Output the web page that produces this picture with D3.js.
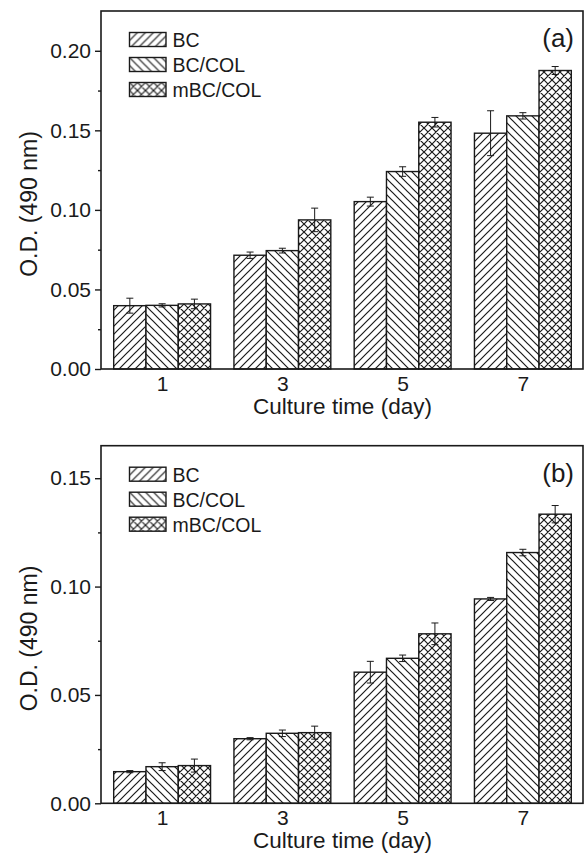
<!DOCTYPE html>
<html>
<head>
<meta charset="utf-8">
<script src="https://cdn.jsdelivr.net/npm/d3@7"></script>
<style>
  body { margin: 0; background: #fff; }
  text { font-family: Arial, "Liberation Sans", sans-serif; fill: #1a1a1a; }
</style>
</head>
<body>
<div id="container"></div>
<script>
/** CONSTANTS AND GLOBALS */
const width = 584, height = 854;

const days = [1, 3, 5, 7];
const seriesNames = ["BC", "BC/COL", "mBC/COL"];
const patternIds = ["fwd", "back", "cross"];

// panel (a)
const aBC = [0.0398, 0.0715, 0.1052, 0.1482];
const aBCErr = [0.0047, 0.002, 0.0028, 0.0141];
const aBCCOL = [0.0400, 0.0744, 0.1241, 0.1591];
const aBCCOLErr = [0.001, 0.0015, 0.003, 0.002];
const aMBCCOL = [0.0409, 0.0937, 0.1551, 0.1876];
const aMBCCOLErr = [0.003, 0.0074, 0.003, 0.0025];

// panel (b)
const bBC = [0.0146, 0.0298, 0.0605, 0.0943];
const bBCErr = [0.0005, 0.0005, 0.005, 0.0007];
const bBCCOL = [0.0169, 0.0323, 0.0669, 0.1157];
const bBCCOLErr = [0.0018, 0.0015, 0.0015, 0.0015];
const bMBCCOL = [0.0174, 0.0326, 0.0782, 0.1334];
const bMBCCOLErr = [0.003, 0.003, 0.005, 0.004];

const yMajorA = [0, 0.05, 0.10, 0.15, 0.20];
const yMinorA = [0.025, 0.075, 0.125, 0.175];
const yMajorB = [0, 0.05, 0.10, 0.15];
const yMinorB = [0.025, 0.075, 0.125];

const panels = [
  { label: "(a)", top: 11, bottom: 369, yMax: 0.225, major: yMajorA, minor: yMinorA,
    values: [aBC, aBCCOL, aMBCCOL], errors: [aBCErr, aBCCOLErr, aMBCCOLErr] },
  { label: "(b)", top: 445.7, bottom: 803.3, yMax: 0.165, major: yMajorB, minor: yMinorB,
    values: [bBC, bBCCOL, bMBCCOL], errors: [bBCErr, bBCCOLErr, bMBCCOLErr] }
];

const left = 101, right = 583;
const barW = 0.537; // in days
const ink = "#1a1a1a";

const svg = d3.select("#container").append("svg")
  .attr("width", width)
  .attr("height", height);

/** PATTERNS */
const defs = svg.append("defs");
function hatch(id, paths) {
  const p = defs.append("pattern")
    .attr("id", id)
    .attr("patternUnits", "userSpaceOnUse")
    .attr("width", 8).attr("height", 8);
  p.append("rect").attr("width", 8).attr("height", 8).attr("fill", "#fff");
  p.append("path").attr("d", paths).attr("stroke", ink).attr("stroke-width", 1.2).attr("fill", "none");
}
hatch("fwd", "M-2,2 L2,-2 M0,8 L8,0 M6,10 L10,6");
hatch("back", "M-2,6 L2,10 M0,0 L8,8 M6,-2 L10,2");
hatch("cross", "M-2,2 L2,-2 M0,8 L8,0 M6,10 L10,6 M-2,6 L2,10 M0,0 L8,8 M6,-2 L10,2");

const x = d3.scaleLinear().domain([0, 8]).range([102, right]);

panels.forEach(p => {
  const y = d3.scaleLinear().domain([0, p.yMax]).range([p.bottom, p.top]);
  const g = svg.append("g");

  // bars + error bars
  p.values.forEach((vals, si) => {
    g.selectAll(".bar" + si)
      .data(days.map((d, i) => ({ day: d, v: vals[i], e: p.errors[si][i] })))
      .join("g")
      .each(function(d) {
        const x0 = x(d.day + (si - 1.5) * barW);
        const x1 = x(d.day + (si - 0.5) * barW);
        const sel = d3.select(this);
        sel.append("rect")
          .attr("x", x0).attr("y", y(d.v))
          .attr("width", x1 - x0).attr("height", y(0) - y(d.v))
          .attr("fill", `url(#${patternIds[si]})`)
          .attr("stroke", ink).attr("stroke-width", 1.4);
        const cx = (x0 + x1) / 2;
        sel.append("line")
          .attr("x1", cx).attr("x2", cx)
          .attr("y1", y(d.v + d.e)).attr("y2", y(d.v - d.e))
          .attr("stroke", ink).attr("stroke-width", 1);
        [d.v + d.e, d.v - d.e].forEach(t => {
          sel.append("line")
            .attr("x1", cx - 3.5).attr("x2", cx + 3.5)
            .attr("y1", y(t)).attr("y2", y(t))
            .attr("stroke", ink).attr("stroke-width", 1);
        });
      });
  });

  // frame
  g.append("rect")
    .attr("x", left).attr("y", p.top)
    .attr("width", right - left).attr("height", p.bottom - p.top)
    .attr("fill", "none").attr("stroke", ink).attr("stroke-width", 1.6);

  // y axis
  const yAxis = g.append("g")
    .attr("transform", `translate(${left},0)`)
    .call(d3.axisLeft(y).tickValues(p.major).tickSize(6).tickPadding(4).tickFormat(d3.format(".2f")));
  yAxis.select(".domain").remove();
  yAxis.selectAll("line").attr("stroke", ink).attr("stroke-width", 1.4);
  yAxis.selectAll("text").style("font-size", "21px").attr("fill", ink);

  const yMinor = g.append("g")
    .attr("transform", `translate(${left},0)`)
    .call(d3.axisLeft(y).tickValues(p.minor).tickSize(3).tickFormat(""));
  yMinor.select(".domain").remove();
  yMinor.selectAll("line").attr("stroke", ink).attr("stroke-width", 1.4);

  // x axis
  const xAxis = g.append("g")
    .attr("transform", `translate(0,${p.bottom})`)
    .call(d3.axisBottom(x).tickValues(days).tickSize(0).tickPadding(7).tickFormat(d3.format("d")));
  xAxis.select(".domain").remove();
  xAxis.selectAll("text").style("font-size", "21px").attr("fill", ink);

  // axis titles
  g.append("text")
    .attr("x", (left + right) / 2 + 0.5)
    .attr("y", p.bottom + 44.5)
    .attr("text-anchor", "middle")
    .style("font-size", "22.5px")
    .text("Culture time (day)");

  g.append("text")
    .attr("transform", `translate(37,${(p.top + p.bottom) / 2 + 14}) rotate(-90)`)
    .attr("text-anchor", "middle")
    .style("font-size", "23px")
    .text("O.D. (490 nm)");

  // panel label
  g.append("text")
    .attr("x", 574).attr("y", p.top + 36)
    .attr("text-anchor", "end")
    .style("font-size", "26px")
    .text(p.label);

  // legend
  const leg = g.selectAll(".leg")
    .data(seriesNames)
    .join("g")
    .attr("transform", (d, i) => `translate(129.5,${p.top + 21.5 + i * 25})`);
  leg.append("rect")
    .attr("width", 36.5).attr("height", 14)
    .attr("fill", (d, i) => `url(#${patternIds[i]})`)
    .attr("stroke", ink).attr("stroke-width", 1.4);
  leg.append("text")
    .attr("x", 43).attr("y", 14.5)
    .style("font-size", "19.5px")
    .text(d => d);
});
</script>
</body>
</html>
